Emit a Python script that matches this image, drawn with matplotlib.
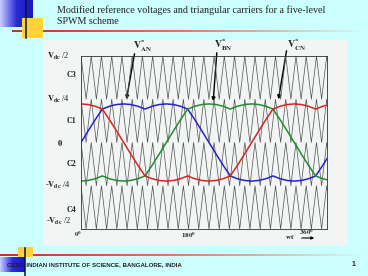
import numpy as np
import matplotlib.pyplot as plt
from matplotlib.patches import Rectangle
from matplotlib.colors import LinearSegmentedColormap

plt.rcParams['mathtext.fontset'] = 'stix'

# angle axis (degrees) and reference voltages (in units of Vdc/4)
theta = [0, 10, 20, 30, 40, 50, 60, 70, 80, 90, 100, 110, 120, 130, 140, 150, 160, 170,
         180, 190, 200, 210, 220, 230, 240, 250, 260, 270, 280, 290, 300, 310, 320, 330, 340, 350]
v_an = [0.0, 0.268, 0.528, 0.773, 0.838, 0.878, 0.892, 0.878, 0.838, 0.773, 0.838, 0.878,
        0.892, 0.878, 0.838, 0.773, 0.528, 0.268, 0.0, -0.268, -0.528, -0.773, -0.838, -0.878,
        -0.892, -0.878, -0.838, -0.773, -0.838, -0.878, -0.892, -0.878, -0.838, -0.773, -0.528, -0.268]
v_bn = [-0.892, -0.878, -0.838, -0.773, -0.838, -0.878, -0.892, -0.878, -0.838, -0.773, -0.528, -0.268,
        0.0, 0.268, 0.528, 0.773, 0.838, 0.878, 0.892, 0.878, 0.838, 0.773, 0.838, 0.878,
        0.892, 0.878, 0.838, 0.773, 0.528, 0.268, 0.0, -0.268, -0.528, -0.773, -0.838, -0.878]
v_cn = [0.892, 0.878, 0.838, 0.773, 0.528, 0.268, 0.0, -0.268, -0.528, -0.773, -0.838, -0.878,
        -0.892, -0.878, -0.838, -0.773, -0.838, -0.878, -0.892, -0.878, -0.838, -0.773, -0.528, -0.268,
        0.0, 0.268, 0.528, 0.773, 0.838, 0.878, 0.892, 0.878, 0.838, 0.773, 0.838, 0.878]

# carriers: four level-shifted bands, all in phase
band_bottoms = [1, 0, -1, -2]
n_carrier = 25

level_labels = [r'$\mathbf{V_{dc}}$ /2', r'$\mathbf{V_{dc}}$ /4', r'$\mathbf{0}$',
                r'-$\mathbf{V_{dc}}$ /4', r'-$\mathbf{V_{dc}}$ /2']
level_y = [2, 1, 0, -1, -1.82]
band_labels = ['C3', 'C1', 'C2', 'C4']
band_y = [1.55, 0.5, -0.5, -1.55]

W, H = 368, 276
fig = plt.figure(figsize=(W / 100, H / 100), dpi=100)
fig.patch.set_facecolor('#ccffff')

# slide decoration layer, in pixel coordinates
bg = fig.add_axes([0, 0, 1, 1])
bg.axis('off')
grad = np.linspace(0, 1, 64).reshape(1, -1)
blue_cm = LinearSegmentedColormap.from_list('b', ['#c8ccff', '#2a2ad8', '#1818c0'])
red_cm = LinearSegmentedColormap.from_list('r', ['#c83020', '#e08060', '#ccffff'])
bg.add_patch(Rectangle((43, 40), 304, 205, fc='#f3f5f5', ec='none'))
bg.imshow(grad, extent=(0, 33, 27, 0), cmap=blue_cm, aspect='auto')
bg.add_patch(Rectangle((22, 18), 21, 20, fc='#ffd23a', ec='none'))
bg.imshow(grad, extent=(12, 368, 32.2, 30.2), cmap=red_cm, aspect='auto')
bg.plot([26, 26], [0, 38], color='#101030', lw=1.1)
bg.imshow(grad, extent=(0, 25, 272, 257), cmap=blue_cm, aspect='auto')
bg.add_patch(Rectangle((18, 247), 15, 10, fc='#ffd23a', ec='none'))
bg.imshow(grad, extent=(0, 368, 256.2, 254.2), cmap=red_cm, aspect='auto')
bg.plot([25, 25], [248, 276], color='#101030', lw=1.1)
bg.set_xlim(0, W)
bg.set_ylim(H, 0)

bg.text(57, 5.5, 'Modified reference voltages and triangular carriers for a five-level\nSPWM scheme',
        va='top', ha='left', family='Liberation Serif', fontsize=7.2, color='#202020',
        linespacing=1.25)
bg.text(7, 265, 'CEDT, INDIAN INSTITUTE OF SCIENCE, BANGALORE, INDIA', va='center', ha='left',
        family='Liberation Sans', fontsize=4.4, fontweight='bold', color='#202020')
bg.text(353, 265, '1', va='center', ha='center', family='Liberation Sans', fontsize=5,
        fontweight='bold', color='#202020')

# main chart
ax = fig.add_axes([81 / W, 1 - 229 / H, 246 / W, 173 / H])
ax.set_facecolor('none')
period = 360 / n_carrier
cx = np.arange(2 * n_carrier + 1) * period / 2
for b in band_bottoms:
    cy = b + (np.arange(2 * n_carrier + 1) + 1) % 2
    ax.plot(cx, cy, color='#505050', lw=0.5)

ax.plot(theta, v_an, color='#2323c8', lw=1.1)
ax.plot(theta, v_bn, color='#238a2e', lw=1.1)
ax.plot(theta, v_cn, color='#d42424', lw=1.1)

ax.set_xlim(0, 346)
ax.set_ylim(-2, 2)
ax.set_xticks([])
ax.set_yticks([])
for s in ax.spines.values():
    s.set_linewidth(0.6)
    s.set_color('#303030')

for lab, yv in zip(level_labels, level_y):
    ax.text(-32 if '0' not in lab else -30, yv, lab, ha='center', va='center',
            family='Liberation Serif', fontsize=6, color='#202020', clip_on=False)
for lab, yv in zip(band_labels, band_y):
    ax.text(-6, yv, lab, ha='right', va='center', family='Liberation Serif',
            fontsize=5.8, fontweight='bold', color='#202020', clip_on=False)

# phase labels with arrows
arrows = [(r'$\mathbf{V^{*}_{AN}}$', 133, 46, 135, 51, 126, 102),
          (r'$\mathbf{V^{*}_{BN}}$', 214, 45, 217, 50, 213, 104),
          (r'$\mathbf{V^{*}_{CN}}$', 287, 45, 287, 48, 278, 102)]
for lab, lx, ly, x0, y0, x1, y1 in arrows:
    bg.text(lx, ly, lab, ha='left', va='center', fontsize=7, color='#202020')
    bg.annotate('', xy=(x1, y1), xytext=(x0, y0),
                arrowprops=dict(arrowstyle='-|>', color='black', lw=1.0, mutation_scale=5))

bg.text(78, 234, r'$\mathbf{0^0}$', ha='center', va='center', fontsize=5, color='#202020')
bg.text(188, 235, r'$\mathbf{180^0}$', ha='center', va='center', fontsize=5, color='#202020')
bg.text(306, 232, r'$\mathbf{360^0}$', ha='center', va='center', fontsize=5, color='#202020')
bg.text(290, 237, r'$\mathbf{wt}$', ha='center', va='center', fontsize=5, color='#202020')
bg.annotate('', xy=(317, 238), xytext=(299, 238),
            arrowprops=dict(arrowstyle='-|>', color='black', lw=0.8, mutation_scale=4))

fig.savefig('out.png', dpi=100, facecolor=fig.get_facecolor())
